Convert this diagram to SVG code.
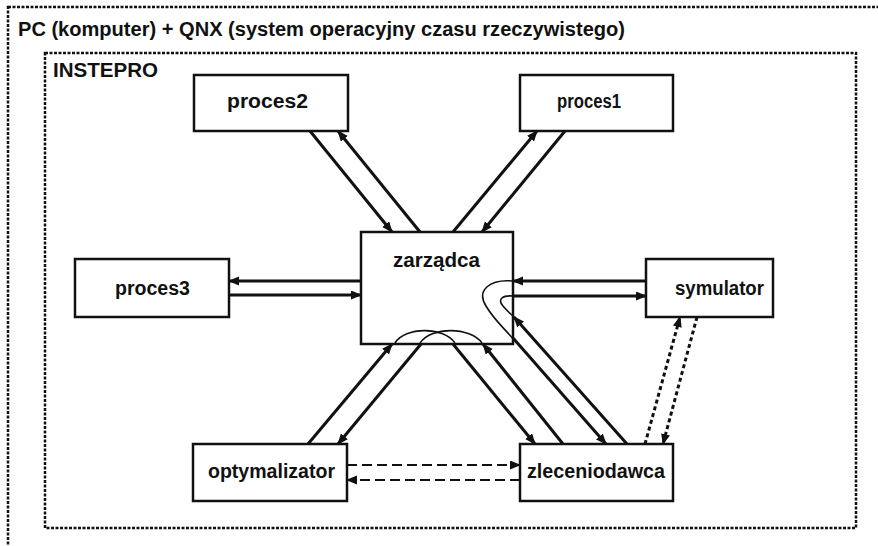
<svg xmlns="http://www.w3.org/2000/svg" width="878" height="546" viewBox="0 0 878 546">
<style>
  .frame{fill:none;stroke:#111;stroke-width:2.5;stroke-dasharray:3 1.5}
  .box{fill:#fff;stroke:#111;stroke-width:2.5}
  .lbl{font-family:"Liberation Sans",Arial,sans-serif;font-weight:bold;font-size:20px;fill:#111}
  .c{fill:none;stroke:#111;stroke-width:3}
  .dash{stroke-dasharray:10 5;stroke-width:2.2}
  .dot{stroke-dasharray:4 3}
  .thin{fill:none;stroke:#111;stroke-width:1.6}
</style>
<defs>
  <marker id="ah" markerUnits="userSpaceOnUse" markerWidth="12" markerHeight="10" refX="10" refY="4.5" orient="auto">
    <path d="M0,0 L11,4.5 L0,9 z" fill="#111"/>
  </marker>
</defs>
<rect width="878" height="546" fill="#fff"/>
<g id="frame-pc">
  <rect class="frame" x="8" y="7" width="890" height="560"/>
  <text class="lbl" x="18" y="36" textLength="607" lengthAdjust="spacingAndGlyphs">PC (komputer) + QNX (system operacyjny czasu rzeczywistego)</text>
</g>
<g id="frame-instepro">
  <rect class="frame" x="45" y="53" width="811" height="475"/>
  <text class="lbl" x="53" y="77" textLength="105" lengthAdjust="spacingAndGlyphs">INSTEPRO</text>
</g>
<g id="connectors">
  <line class="c" x1="310" y1="131" x2="392" y2="232" marker-end="url(#ah)"/>
  <line class="c" x1="420" y1="232" x2="338" y2="131" marker-end="url(#ah)"/>
  <line class="c" x1="453" y1="232" x2="537" y2="131" marker-end="url(#ah)"/>
  <line class="c" x1="565" y1="131" x2="482" y2="232" marker-end="url(#ah)"/>
  <line class="c" x1="361" y1="281" x2="229" y2="281" marker-end="url(#ah)"/>
  <line class="c" x1="229" y1="295" x2="361" y2="295" marker-end="url(#ah)"/>
  <line class="c" x1="646" y1="281" x2="513" y2="281" marker-end="url(#ah)"/>
  <line class="c" x1="513" y1="296" x2="646" y2="296" marker-end="url(#ah)"/>
  <line class="c" x1="308" y1="444" x2="392" y2="344" marker-end="url(#ah)"/>
  <line class="c" x1="421" y1="344" x2="338" y2="444" marker-end="url(#ah)"/>
  <line class="c" x1="453" y1="344" x2="535" y2="444" marker-end="url(#ah)"/>
  <line class="c" x1="563" y1="444" x2="483" y2="344" marker-end="url(#ah)"/>
  <line class="c" x1="513" y1="338" x2="606" y2="444" marker-end="url(#ah)"/>
  <line class="c" x1="627" y1="444" x2="514" y2="317" marker-end="url(#ah)"/>
  <line class="c dot" x1="645" y1="444" x2="680" y2="317" marker-end="url(#ah)"/>
  <line class="c dot" x1="697" y1="317" x2="663" y2="444" marker-end="url(#ah)"/>
  <line class="c dash" x1="347" y1="465" x2="520" y2="465" marker-end="url(#ah)"/>
  <line class="c dash" x1="520" y1="480" x2="347" y2="480" marker-end="url(#ah)"/>
</g>
<g id="proces2"><rect class="box" x="194" y="75" width="154" height="56"/><text class="lbl" x="227" y="108" textLength="81" lengthAdjust="spacingAndGlyphs">proces2</text></g>
<g id="proces1"><rect class="box" x="520" y="75" width="153" height="56"/><text class="lbl" x="557" y="108" font-size="19" textLength="64" lengthAdjust="spacingAndGlyphs">proces1</text></g>
<g id="proces3"><rect class="box" x="75" y="259" width="154" height="58"/><text class="lbl" x="115" y="295" textLength="75" lengthAdjust="spacingAndGlyphs">proces3</text></g>
<g id="symulator"><rect class="box" x="646" y="259" width="127" height="58"/><text class="lbl" x="675" y="295" font-size="19" textLength="89" lengthAdjust="spacingAndGlyphs">symulator</text></g>
<g id="optymalizator"><rect class="box" x="193" y="444" width="154" height="57"/><text class="lbl" x="208" y="478" textLength="127" lengthAdjust="spacingAndGlyphs">optymalizator</text></g>
<g id="zleceniodawca"><rect class="box" x="520" y="444" width="153" height="57"/><text class="lbl" x="527" y="478" textLength="138" lengthAdjust="spacingAndGlyphs">zleceniodawca</text></g>
<g id="zarzadca">
  <rect class="box" x="361" y="232" width="152" height="112"/>
  <text class="lbl" x="393" y="267" textLength="87" lengthAdjust="spacingAndGlyphs">zarządca</text>
  <path class="thin" d="M395,343 C405,327 443,326 455,343"/>
  <path class="thin" d="M420,343 C432,326 470,327 482,343"/>
  <path class="thin" d="M513,281 C490,279 476,290 486,306 C494,320 506,330 514,340"/>
  <path class="thin" d="M513,296 C503,295 497,299 503,306 C507,311 511,314 515,318"/>
</g>
</svg>
